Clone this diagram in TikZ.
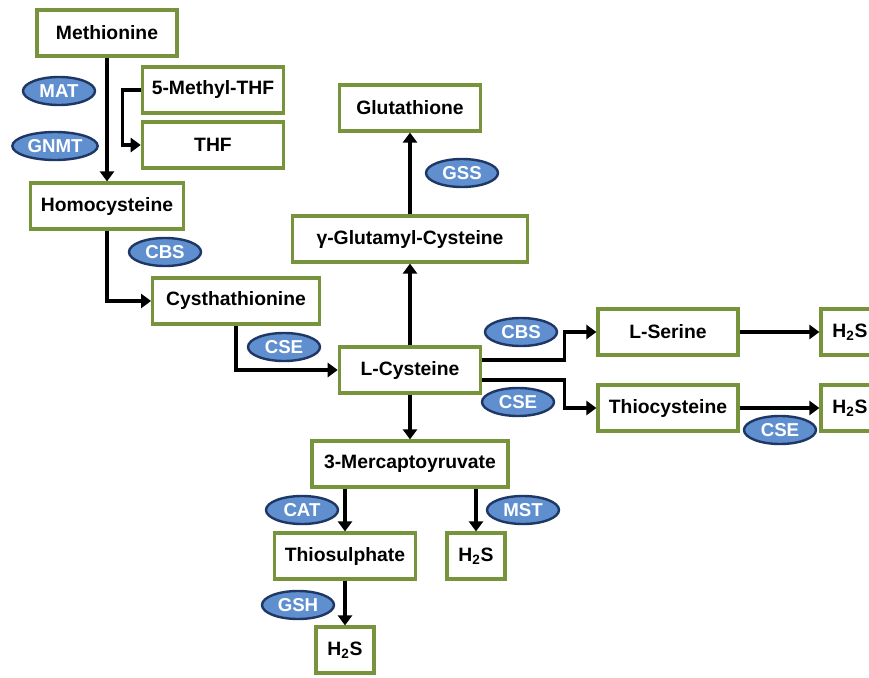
\documentclass[tikz,border=0pt]{standalone}
\usepackage{fontspec}
\setmainfont{Liberation Sans}
\usepackage{xcolor}
\usetikzlibrary{shapes,arrows.meta,positioning}

\definecolor{boxgreen}{RGB}{119,147,60}
\definecolor{enzfill}{RGB}{96,143,208}
\definecolor{enzdraw}{RGB}{30,55,100}

\begin{document}
\begin{tikzpicture}[x=0.75pt, y=-0.75pt,
    % Define styles
    metab/.style={rectangle, draw=boxgreen, line width=2.4pt, fill=white, minimum height=34.5pt, inner sep=2pt, text centered, font=\fontsize{14.5}{16}\selectfont\bfseries},
    enzyme/.style={ellipse, draw=enzdraw, line width=1.8pt, fill=enzfill, minimum width=54pt, minimum height=21pt, inner sep=0pt, text=white, font=\fontsize{14}{16}\selectfont\bfseries},
    flow/.style={draw=black, line width=2.4pt, -{Triangle[length=7.5pt,width=10.5pt]}}
]
\useasboundingbox (0,0) rectangle (869,678);
\clip (0,0) rectangle (869,678);

% Metabolites
\node[metab, minimum width=105pt] (methionine) at (107,33) {Methionine};
\node[metab, minimum width=106pt] (mthf) at (213,90) {5-Methyl-THF};
\node[metab, minimum width=106pt] (thf) at (213,145) {THF};
\node[metab, minimum width=115pt] (homo) at (107,206) {Homocysteine};
\node[metab, minimum width=125pt] (cysta) at (236,301) {Cysthathionine};
\node[metab, minimum width=106pt] (cys) at (410,370) {L-Cysteine};
\node[metab, minimum width=176pt] (gglu) at (410,239) {γ-Glutamyl-Cysteine};
\node[metab, minimum width=106pt] (gsh) at (410,108) {Glutathione};
\node[metab, minimum width=105pt] (serine) at (668,332) {L-Serine};
\node[metab, minimum width=105pt] (thiocys) at (668,408) {Thiocysteine};
\node[metab, minimum width=43.5pt] (hsa) at (850,332) {H\textsubscript{2}S};
\node[metab, minimum width=43.5pt] (hsb) at (850,408) {H\textsubscript{2}S};
\node[metab, minimum width=147pt] (merc) at (410,464) {3-Mercaptoyruvate};
\node[metab, minimum width=106pt] (thiosul) at (345,556) {Thiosulphate};
\node[metab, minimum width=43.5pt] (hsc) at (476,556) {H\textsubscript{2}S};
\node[metab, minimum width=43.5pt] (hsd) at (345,650) {H\textsubscript{2}S};

% Enzymes
\node[enzyme] (mat) at (59,91) {MAT};
\node[enzyme, minimum width=64pt] (gnmt) at (55,146) {GNMT};
\node[enzyme] (cbsa) at (165,252) {CBS};
\node[enzyme] (csea) at (284,347) {CSE};
\node[enzyme] (gss) at (462,173) {GSS};
\node[enzyme] (cbsb) at (521,332) {CBS};
\node[enzyme] (cseb) at (518,402) {CSE};
\node[enzyme] (csec) at (780,430) {CSE};
\node[enzyme] (cat) at (302,510) {CAT};
\node[enzyme] (mst) at (523,510) {MST};
\node[enzyme] (gshe) at (298,605) {GSH};

% Connections
\draw[flow] (methionine) -- (homo);
\draw[flow] (mthf.west) -- ++(-18,0) |- (thf.west);
\draw[flow] (homo.south) |- (cysta.west);
\draw[flow] (cysta.south) |- (cys.west);

% Glutathione branch
\draw[flow] (cys) -- (gglu);
\draw[flow] (gglu) -- (gsh);

% Towards L-Serine and Thiocysteine
\draw[flow] ([yshift=7.5pt]cys.east) -- ++(82,0) |- (serine.west);
\draw[flow] ([yshift=-7.5pt]cys.east) -- ++(82,0) |- (thiocys.west);
\draw[flow] (serine) -- (hsa);
\draw[flow] (thiocys) -- (hsb);

% 3-Mercaptoyruvate branch
\draw[flow] (cys) -- (merc);
\draw[flow] (merc.south -| thiosul.north) -- (thiosul.north);
\draw[flow] (merc.south -| hsc.north) -- (hsc.north);
\draw[flow] (thiosul) -- (hsd);

\end{tikzpicture}
\end{document}
